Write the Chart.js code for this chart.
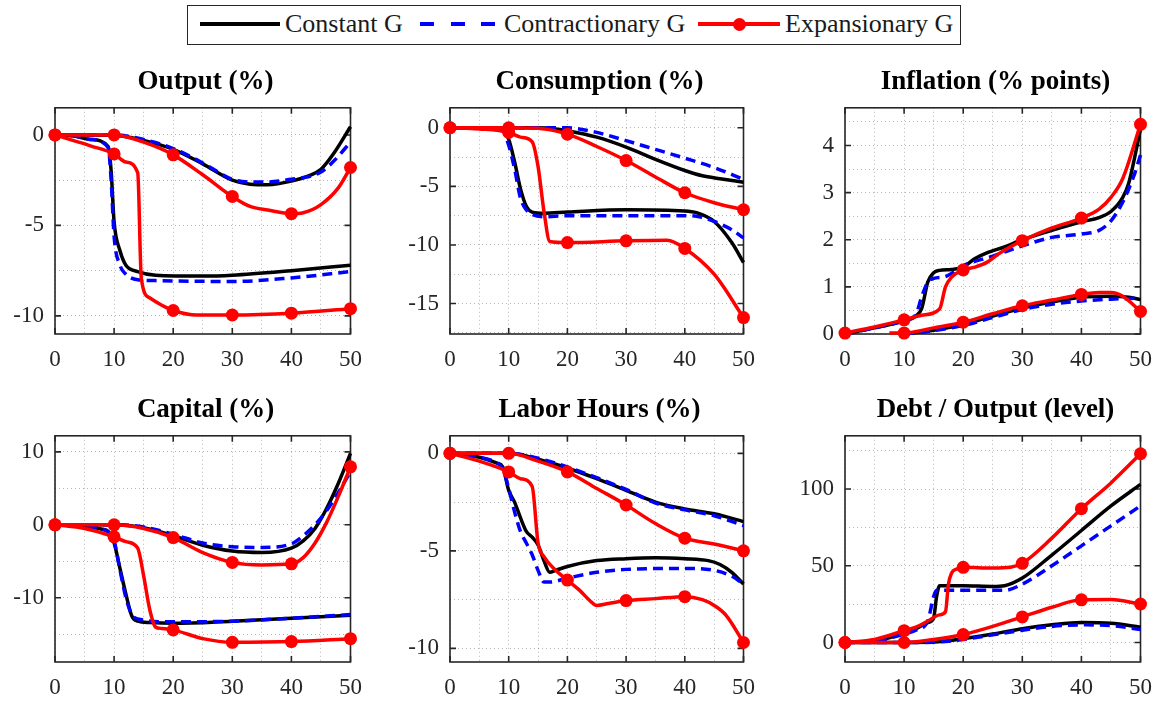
<!DOCTYPE html>
<html>
<head>
<meta charset="utf-8">
<script src="https://cdn.jsdelivr.net/npm/chart.js"></script>
<style>
  body { margin: 0; background: #fff; width: 1164px; height: 702px; position: relative; overflow: hidden; font-family: "Liberation Serif", serif; }
  canvas { position: absolute; }
  .title { position: absolute; text-align: center; font-weight: bold; font-size: 27px; color: #000; line-height: 30px; }
  #legend { position: absolute; left: 187px; top: 5px; width: 772px; height: 38px; border: 1.5px solid #262626; background: #fff; }
  .lg { position: absolute; font-size: 26px; color: #1a1a1a; top: 3px; line-height: 30px; }
  .sw { position: absolute; top: 16px; height: 4px; }
</style>
</head>
<body>
<div id="legend">
  <div class="sw" style="left:12px;width:80px;background:#000"></div>
  <div class="lg" style="left:97px">Constant G</div>
  <div class="sw" style="left:232px;width:14px;background:#0000ff"></div>
  <div class="sw" style="left:263px;width:14px;background:#0000ff"></div>
  <div class="sw" style="left:293px;width:14px;background:#0000ff"></div>
  <div class="lg" style="left:316px">Contractionary G</div>
  <div class="sw" style="left:510px;width:82px;background:#ff0000"></div>
  <div style="position:absolute;left:545px;top:11.5px;width:13px;height:13px;border-radius:50%;background:#ff0000"></div>
  <div class="lg" style="left:597px">Expansionary G</div>
</div>

<script>
// time axis
const xTicks = [0, 10, 20, 30, 40, 50];

// Output (%)
const outConstA = [[0,0],[5,0],[10,-0.02],[15,-0.3],[20,-0.8],[25,-1.6],[30,-2.5],[33,-2.72],[36,-2.75],[40,-2.55],[43,-2.25],[45,-1.9],[47,-1.1],[50,0.45]];
const outContrA = [[0,0],[5,0],[10,0],[15,-0.25],[20,-0.75],[25,-1.55],[30,-2.45],[33,-2.6],[36,-2.6],[40,-2.45],[43,-2.3],[45,-2.05],[47,-1.5],[50,-0.4]];
const outExpA = [[0,0],[5,0],[10,0],[15,-0.4],[20,-1.1],[25,-2.2],[30,-3.4],[33,-3.95],[36,-4.15],[40,-4.35],[42,-4.3],[45,-3.85],[48,-2.9],[50,-1.8]];
const outConstB = [[0,0],[3,-0.05],[6,-0.25],[9,-0.65],[9.5,-2],[10,-4.8],[11,-6.4],[12,-7.2],[14,-7.55],[17,-7.75],[25,-7.8],[30,-7.75],[40,-7.5],[50,-7.2]];
const outContrB = [[0,0],[3,-0.05],[6,-0.25],[9,-0.7],[9.5,-2.5],[10,-5.6],[11,-7.2],[12,-7.7],[14,-8.0],[17,-8.05],[30,-8.1],[40,-7.9],[50,-7.55]];
const outExpB = [[0,0],[3,-0.3],[6,-0.6],[10,-1.05],[12,-1.5],[14,-2.1],[14.6,-7.9],[16,-9.0],[18,-9.4],[20,-9.7],[24,-9.95],[30,-9.95],[40,-9.85],[50,-9.6]];

// Consumption (%)
const conConstA = [[0,0],[10,0],[15,0],[18,-0.1],[20,-0.25],[25,-0.8],[30,-1.65],[35,-2.7],[40,-3.65],[43,-4.1],[46,-4.35],[50,-4.65]];
const conContrA = [[0,0],[10,0],[20,0],[22,-0.1],[25,-0.4],[30,-1.1],[35,-1.85],[40,-2.6],[45,-3.4],[50,-4.4]];
const conExpA = [[0,0],[10,0],[15,-0.05],[20,-0.55],[25,-1.6],[30,-2.8],[35,-4.2],[40,-5.55],[45,-6.4],[50,-7.0]];
const conConstB = [[0,0],[5,0],[9,-0.2],[10,-1.0],[11,-2.9],[12,-5.2],[13,-6.7],[14,-7.2],[16,-7.3],[20,-7.2],[30,-7.0],[40,-7.1],[42,-7.25],[45,-8.0],[48,-9.8],[50,-11.5]];
const conContrB = [[0,0],[5,0],[9,-0.3],[10,-1.5],[11,-3.5],[12,-6.0],[13,-7.0],[14,-7.4],[16,-7.6],[20,-7.5],[30,-7.5],[40,-7.5],[42,-7.55],[45,-8.0],[48,-8.7],[50,-9.4]];
const conExpB = [[0,0],[5,-0.1],[10,-0.4],[12,-0.8],[14,-1.2],[15,-3.3],[16,-7.1],[17,-9.7],[20,-9.8],[30,-9.65],[37,-9.6],[40,-10.3],[45,-12.5],[50,-16.2]];

// Inflation (% points)
const infConstA = [[10,0],[15,0.08],[20,0.2],[25,0.38],[30,0.55],[35,0.68],[40,0.78],[45,0.8],[48,0.78],[50,0.73]];
const infContrA = [[10,0],[15,0.07],[20,0.18],[25,0.35],[30,0.52],[35,0.63],[40,0.7],[45,0.74],[50,0.76]];
const infExpA = [[7.5,0.02],[10,0.02],[15,0.13],[20,0.25],[25,0.43],[30,0.6],[35,0.72],[40,0.84],[43,0.88],[45,0.88],[47,0.8],[50,0.48]];
const infConstB = [[0,0],[5,0.13],[10,0.28],[12,0.38],[13,0.55],[14,1.1],[15,1.3],[16,1.35],[18,1.37],[20,1.42],[22,1.6],[24,1.72],[27,1.85],[30,2.0],[35,2.2],[40,2.38],[43,2.47],[45,2.6],[47,2.9],[48,3.2],[50,4.35]];
const infContrB = [[0,0],[5,0.13],[10,0.28],[12,0.42],[13,0.8],[14,1.1],[15,1.18],[17,1.22],[20,1.45],[25,1.65],[30,1.87],[35,2.05],[40,2.12],[43,2.2],[45,2.4],[47,2.8],[49,3.4],[50,3.8]];
const infExpB = [[0,0.02],[5,0.15],[10,0.3],[13,0.4],[16,0.53],[17,1.0],[18,1.2],[20,1.36],[22,1.42],[24,1.52],[26,1.7],[28,1.85],[30,1.98],[35,2.25],[40,2.46],[43,2.65],[45,2.9],[47,3.3],[50,4.45]];

// Capital (%)
const capConstA = [[0,0],[10,0],[15,-0.4],[20,-1.5],[25,-2.8],[30,-3.6],[35,-3.8],[40,-3.2],[42,-2.2],[44,-0.5],[46,2.3],[48,5.8],[50,9.8]];
const capContrA = [[0,0],[10,0],[15,-0.3],[20,-1.3],[25,-2.5],[30,-3.0],[35,-3.1],[40,-2.6],[42,-1.5],[44,0],[46,2],[48,4.5],[50,7.3]];
const capExpA = [[0,0],[10,0],[15,-0.5],[20,-1.75],[25,-3.8],[30,-5.15],[35,-5.5],[40,-5.35],[42,-4.5],[44,-2.5],[46,0.4],[48,4],[50,7.95]];
const capConstB = [[0,0],[5,-0.2],[8,-0.6],[9,-0.9],[10,-2.5],[11,-6],[12,-9.5],[13,-12.5],[14,-13.2],[16,-13.4],[20,-13.5],[30,-13.2],[40,-12.8],[50,-12.4]];
const capContrB = [[0,0],[5,-0.2],[8,-0.6],[9,-1.0],[10,-2.2],[11,-6.2],[12,-10],[13,-12.3],[14,-12.9],[20,-13.3],[30,-13.2],[40,-12.8],[50,-12.3]];
const capExpB = [[0,0],[5,-0.5],[10,-1.65],[12,-2.3],[14,-3.2],[15,-7],[16,-11.5],[17,-14.0],[18,-14.2],[20,-14.4],[25,-15.6],[30,-16.1],[40,-16.0],[50,-15.6]];

// Labor Hours (%)
const labConstA = [[0,0],[10,0],[15,-0.3],[20,-0.75],[25,-1.3],[30,-1.9],[35,-2.5],[40,-2.85],[45,-3.1],[50,-3.5]];
const labContrA = [[0,0],[10,0],[15,-0.25],[20,-0.7],[25,-1.25],[30,-1.85],[35,-2.55],[40,-2.9],[45,-3.2],[50,-3.7]];
const labExpA = [[0,0],[10,0],[15,-0.4],[20,-0.95],[25,-1.8],[30,-2.65],[35,-3.6],[40,-4.35],[45,-4.65],[50,-5.0]];
const labConstB = [[0,0],[5,-0.2],[8,-0.5],[9,-0.7],[10,-1.9],[11,-2.5],[12,-3.3],[13,-4.0],[14,-4.3],[15,-4.7],[16,-5.5],[17,-6.1],[18,-6.0],[20,-5.8],[25,-5.5],[30,-5.4],[35,-5.35],[40,-5.4],[44,-5.5],[46,-5.7],[48,-6.1],[50,-6.7]];
const labContrB = [[0,0],[5,-0.2],[8,-0.5],[9,-0.8],[10,-1.8],[11,-3.0],[12,-4.0],[13,-4.6],[14,-5.2],[15,-6.0],[16,-6.6],[17,-6.6],[20,-6.4],[25,-6.1],[30,-5.95],[40,-5.9],[45,-6.0],[48,-6.3],[50,-6.7]];
const labExpB = [[0,0],[5,-0.4],[10,-0.95],[12,-1.3],[14,-1.7],[15,-4.6],[16,-5.3],[18,-6.0],[20,-6.5],[22,-7.0],[24,-7.6],[25,-7.8],[27,-7.7],[30,-7.55],[35,-7.45],[40,-7.35],[43,-7.5],[45,-7.8],[47,-8.3],[50,-9.7]];

// Debt / Output (level)
const debtConstA = [[0,0],[10,0],[15,0.3],[20,2.5],[25,5.5],[30,9],[35,11.5],[40,13],[45,12.5],[50,10]];
const debtContrA = [[0,0],[10,0],[15,0.2],[20,2],[25,5],[30,8],[35,10.5],[40,11.5],[45,11],[50,8.5]];
const debtExpA = [[0,0],[10,0],[15,2],[20,5.2],[25,10.5],[30,16.7],[35,23],[40,27.8],[45,28],[50,25.1]];
const debtConstB = [[0,0],[5,1],[10,6],[12,9],[14,13],[15,16],[15.5,30],[16,37],[20,37],[25,36.5],[27,37],[30,42],[35,57],[40,73],[45,89],[50,103]];
const debtContrB = [[0,0],[5,0.8],[10,5.5],[12,8],[14,14],[15,30],[15.5,34],[20,34],[25,34],[27,34],[30,38],[35,50],[40,63],[45,76],[50,89]];
const debtExpB = [[0,0],[5,2],[10,7.7],[12,10],[14,14],[16,18],[17,20],[17.5,38],[18,45],[19,48],[20,49],[25,48.5],[28,49],[30,51.6],[35,68],[40,87.2],[45,104],[50,123]];

const panels = [
  { title: 'Output (%)', box: [55, 99, 356, 334], y: [-11, 1.5], major: 5, series: [outConstA, outContrA, outExpA, outConstB, outContrB, outExpB] },
  { title: 'Consumption (%)', box: [450, 99, 749, 334], y: [-17.6, 1.7], major: 5, series: [conConstA, conContrA, conExpA, conConstB, conContrB, conExpB] },
  { title: 'Inflation (% points)', box: [845, 99, 1146, 334], y: [0, 4.8], major: 1, series: [infConstA, infContrA, infExpA, infConstB, infContrB, infExpB] },
  { title: 'Capital (%)', box: [55, 427, 356, 662], y: [-18.8, 12.2], major: 10, series: [capConstA, capContrA, capExpA, capConstB, capContrB, capExpB] },
  { title: 'Labor Hours (%)', box: [450, 427, 749, 662], y: [-10.7, 0.9], major: 5, series: [labConstA, labContrA, labExpA, labConstB, labContrB, labExpB] },
  { title: 'Debt / Output (level)', box: [845, 427, 1146, 662], y: [-12.7, 134.7], major: 50, series: [debtConstA, debtContrA, debtExpA, debtConstB, debtContrB, debtExpB] }
];

const styles = [
  { color: '#000000', dash: [], order: 2, marker: false },
  { color: '#0000ff', dash: [10, 6], order: 1, marker: false },
  { color: '#ff0000', dash: [], order: 0, marker: true }
];

const PAD_L = 55, PAD_T = 16, PAD_R = 18, PAD_B = 45;
const tickFont = { family: 'Liberation Serif', size: 23 };
const isMult = (v, m) => Math.abs(v / m - Math.round(v / m)) < 1e-6;

// box with inward ticks, like matlab axes
const boxPlugin = {
  id: 'box',
  beforeDatasetsDraw(chart) {
    const { ctx, chartArea: a, scales } = chart;
    const major = chart.options.plugins.box.major;
    ctx.save();
    ctx.strokeStyle = '#262626';
    ctx.lineWidth = 1.6;
    ctx.strokeRect(a.left, a.top, a.right - a.left, a.bottom - a.top);
    ctx.beginPath();
    xTicks.forEach(v => {
      const px = scales.x.getPixelForValue(v);
      ctx.moveTo(px, a.bottom); ctx.lineTo(px, a.bottom - 6);
      ctx.moveTo(px, a.top); ctx.lineTo(px, a.top + 6);
    });
    scales.y.ticks.forEach(t => {
      if (!isMult(t.value, major)) return;
      const py = scales.y.getPixelForValue(t.value);
      ctx.moveTo(a.left, py); ctx.lineTo(a.left + 6, py);
      ctx.moveTo(a.right, py); ctx.lineTo(a.right - 6, py);
    });
    ctx.stroke();
    ctx.restore();
  }
};

panels.forEach((p, i) => {
  const [l, t, r, b] = p.box;
  const w = r - l + PAD_L + PAD_R;
  const h = b - t + PAD_T + PAD_B;
  const cv = document.createElement('canvas');
  cv.width = w; cv.height = h;
  cv.style.left = (l - PAD_L) + 'px';
  cv.style.top = (t - PAD_T) + 'px';
  document.body.appendChild(cv);

  const ttl = document.createElement('div');
  ttl.className = 'title';
  ttl.textContent = p.title;
  ttl.style.left = l + 'px';
  ttl.style.width = (r - l) + 'px';
  ttl.style.top = (t - 34) + 'px';
  document.body.appendChild(ttl);

  const datasets = p.series.map((s, k) => {
    const st = styles[k % 3];
    return {
      data: s.map(([x, y]) => ({ x, y })),
      borderColor: st.color,
      backgroundColor: st.color,
      borderWidth: 3.5,
      borderDash: st.dash,
      order: st.order,
      cubicInterpolationMode: 'monotone',
      pointRadius: st.marker ? (c => (c.raw && isMult(c.raw.x, 10) ? 6.5 : 0)) : 0,
      pointBorderWidth: 0,
      pointBackgroundColor: st.color,
      clip: 10
    };
  });

  const minor = p.major / 2;
  new Chart(cv, {
    type: 'line',
    data: { datasets },
    options: {
      responsive: false,
      animation: false,
      devicePixelRatio: 1,
      layout: { padding: { left: 0, top: PAD_T, right: PAD_R, bottom: 0 } },
      plugins: { legend: { display: false }, tooltip: { enabled: false }, box: { major: p.major } },
      scales: {
        x: {
          type: 'linear', min: 0, max: 50,
          afterFit: s => { s.height = PAD_B; },
          ticks: { stepSize: 5, autoSkip: false, maxRotation: 0, padding: 12, font: tickFont, color: '#262626',
                   callback: v => (isMult(v, 10) ? String(v) : '') },
          grid: { color: 'rgba(0,0,0,0.28)', lineWidth: 1, drawTicks: false },
          border: { display: false, dash: [1, 3] }
        },
        y: {
          type: 'linear', min: p.y[0], max: p.y[1],
          afterFit: s => { s.width = PAD_L; },
          afterBuildTicks: s => {
            const list = [];
            for (let v = Math.ceil(p.y[0] / minor) * minor; v <= p.y[1] + 1e-9; v += minor) {
              list.push({ value: Math.round(v * 1000) / 1000 });
            }
            s.ticks = list;
          },
          ticks: { autoSkip: false, padding: 11, font: tickFont, color: '#262626',
                   callback: v => (isMult(v, p.major) ? String(Math.round(v)) : '') },
          grid: { color: 'rgba(0,0,0,0.28)', lineWidth: 1, drawTicks: false },
          border: { display: false, dash: [1, 3] }
        }
      }
    },
    plugins: [boxPlugin]
  });
});
</script>
</body>
</html>
